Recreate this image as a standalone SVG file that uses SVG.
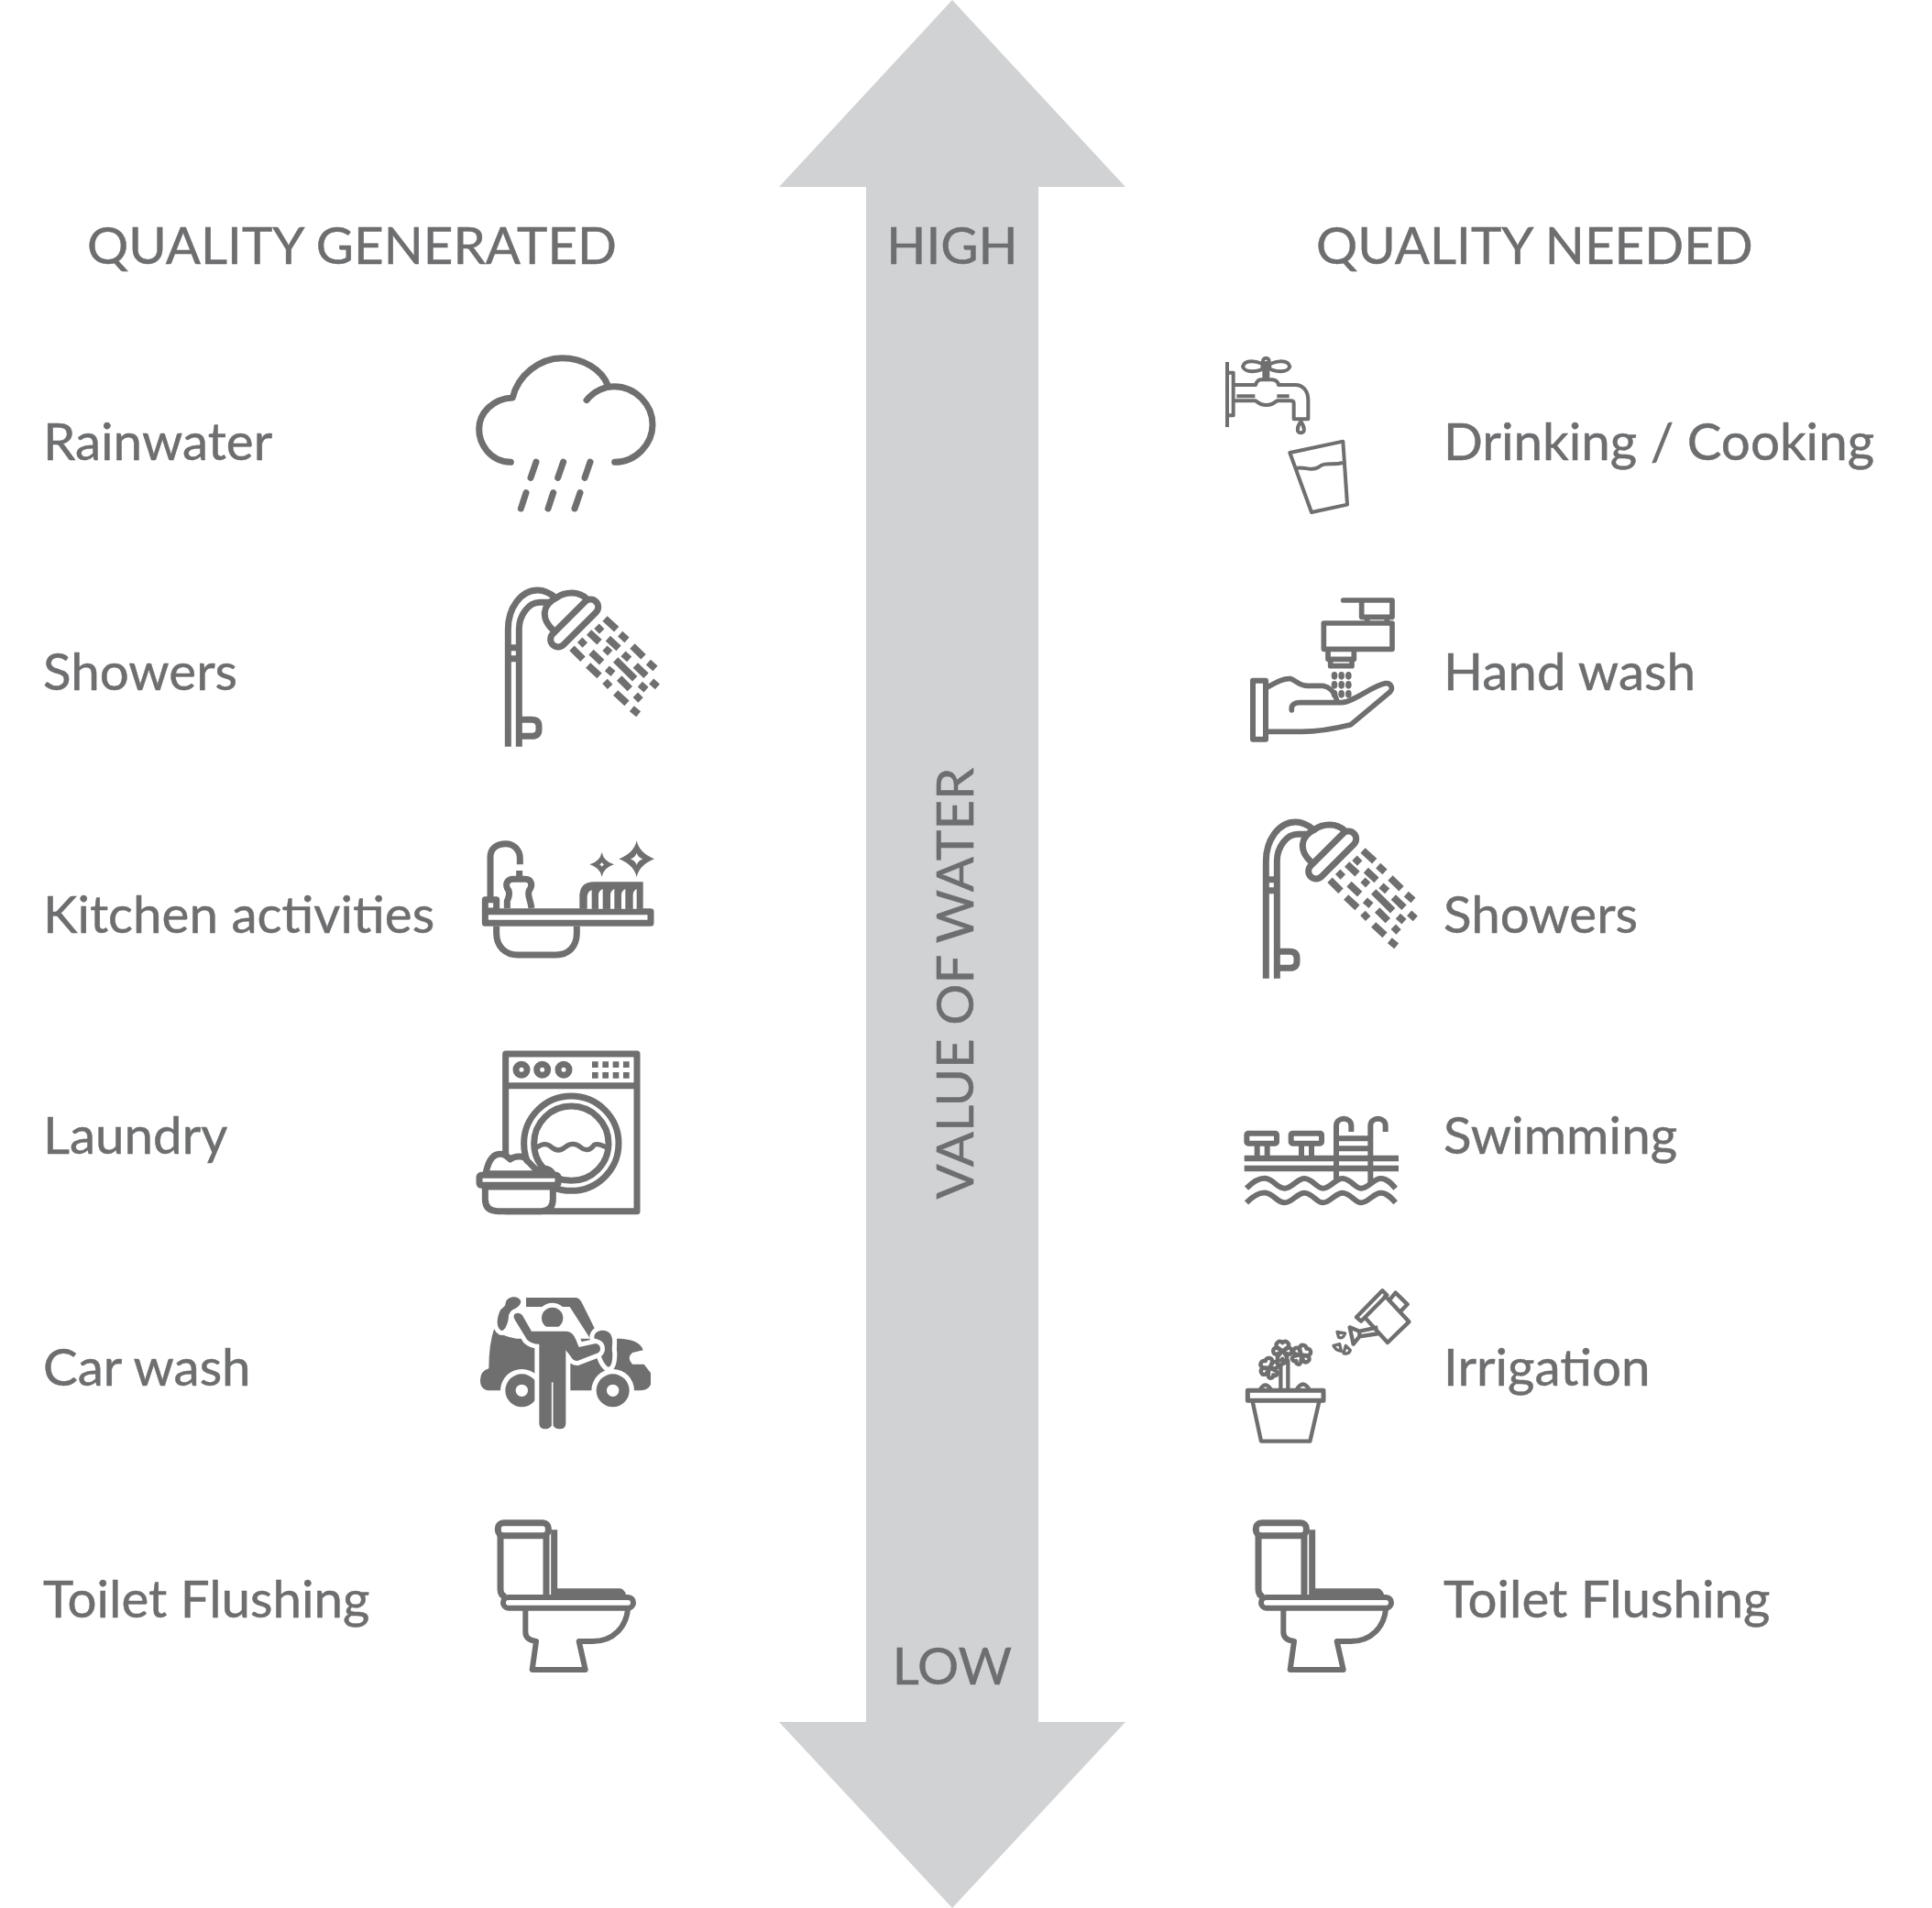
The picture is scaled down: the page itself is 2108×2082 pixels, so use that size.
<svg xmlns="http://www.w3.org/2000/svg" width="2108" height="2082" viewBox="0 0 2108 2082">
<style>
text{font-family:Lato,"Liberation Sans",sans-serif;fill:#6d6e70;stroke:#6d6e70;stroke-width:.5;font-size:56.5px}
.i{fill:none;stroke:#6f6f6f;stroke-width:21;stroke-linejoin:round}
.r{stroke-linecap:round}
.f{fill:#6f6f6f;stroke:none}
.w{fill:#fff}
.h{fill:#6f6f6f;stroke:#fff;stroke-width:30;paint-order:stroke}
</style>
<defs>
<g id="shower-icon">
<path d="M163 1334V950C163 880 205 822 260 822C285 822 305 835 320 848M199 1334V950C199 905 230 860 270 862H296M163 1010H199M163 1046H199M205 1246H240Q264 1246 264 1268V1278Q264 1300 240 1300H205M310 952C270 915 275 870 320 848C350 825 395 825 420 850"/>
<rect x="280" y="905" width="200" height="50" rx="25" transform="rotate(-45 380 930)"/>
<path stroke-width="23" d="M372 1012L408 1048M398 985L415 1002M428 960L462 992M453 940L470 957M480 915L518 950M530 965L552 985M490 980L525 1012M570 1005L606 1040M480 1012L497 1028M435 1025L470 1058M540 1030L560 1048M515 1050L578 1112M425 1068L462 1102M487 1078L507 1095M580 1068L615 1102M622 1058L645 1078M480 1120L497 1138M527 1110L562 1145M595 1130L615 1148M632 1120L652 1138M515 1158L552 1192M580 1165L597 1182M568 1210L590 1228"/>
</g>
<g id="toilet-icon">
<rect x="130" y="812" width="165" height="42" rx="18"/>
<path d="M138 855V1030Q138 1050 155 1055M288 855V1050M314 835V1055"/>
<path class="f" d="M314 1027H530Q545 1030 550 1050H314Z"/>
<rect x="147" y="1056" width="426" height="35" rx="17" stroke-width="18"/>
<path stroke-width="18" d="M220 1095V1170Q220 1195 255 1200L242 1293H416L395 1200H440C510 1200 550 1150 555 1095"/>
</g>
<path id="leaf" d="M0-26C10-36 26-26 18-12L4-2L20-10C34-10 34 10 20 12L4 4L14 20C18 32 4 36 0 26C-6 36-20 32-16 20L-4 4L-20 12C-34 10-34-10-20-10L-4-2L-18-12C-26-26-10-36 0-26Z"/>
</defs>

<g id="connectors">
<path id="value-arrow" fill="#d1d2d4" d="M1039 0L1228 204H1133V1879H1228L1039 2082L850 1879H945V204H850Z"/>
</g>

<g id="labels">
<text x="95" y="288">QUALITY GENERATED</text>
<text x="1436" y="288">QUALITY NEEDED</text>
<text x="1039" y="288" text-anchor="middle">HIGH</text>
<text x="1039" y="1838" text-anchor="middle">LOW</text>
<text transform="translate(1062 1073) rotate(-90)" text-anchor="middle">VALUE OF WATER</text>
</g>

<g id="rainwater"><text x="47" y="502">Rainwater</text>
<g class="i r" transform="translate(500 370) scale(.33333)"><path d="M172 403C100 400 68 340 68 295C68 240 115 195 178 192C195 120 265 62 340 62C410 62 470 100 490 152M420 200C445 170 480 155 510 155C580 155 636 215 636 280C636 345 580 403 512 403M255 402L237 454M344 402L326 454M432 402L414 454M222 503L205 555M311 503L294 555M399 503L381 555"/></g></g>

<g id="showers-generated"><text x="47" y="753">Showers</text>
<use class="i" href="#shower-icon" transform="translate(500 370) scale(.33333)"/></g>

<g id="kitchen"><text x="47" y="1018">Kitchen activities</text>
<g class="i" transform="translate(500 890) scale(.33333)">
<path d="M105 270V135C105 105 130 92 155 92C180 92 202 110 202 140V160M160 303V280C165 265 170 260 165 245C150 225 160 208 180 208H220C240 208 245 228 232 245C225 260 235 270 240 303M200 180V205"/>
<rect x="88" y="275" width="37" height="37"/>
<rect x="88" y="314" width="542" height="38"/>
<path d="M125 362V385C125 430 155 456 195 456H320C360 456 388 430 388 385V362"/>
<path class="f" d="M397 305V265Q397 217 445 217H605V305Z"/>
<path class="w" style="stroke:none" d="M422 305V270Q422 248 437 244V305ZM459 305V260Q459 246 473 240V305ZM498 305V260Q498 246 511 240V305ZM534 305V260Q534 246 547 240V305ZM572 305V260Q572 246 584 240V305Z"/>
<path class="f" d="M584 82Q592 122 642 142Q592 162 584 202Q576 162 526 142Q576 122 584 82ZM470 120Q476 150 510 160Q476 170 470 200Q464 170 430 160Q464 150 470 120Z"/>
<path class="w" style="stroke:none" d="M584 122Q588 136 604 142Q588 148 584 162Q580 148 564 142Q580 136 584 122ZM470 152Q472 158 478 160Q472 162 470 168Q468 162 462 160Q468 158 470 152Z"/>
</g></g>

<g id="laundry"><text x="47" y="1259">Laundry</text>
<g class="i" transform="translate(500 890) scale(.33333)">
<rect x="155" y="780" width="430" height="515"/>
<path d="M155 884H585"/>
<circle cx="207" cy="832" r="18"/><circle cx="275" cy="832" r="18"/><circle cx="345" cy="832" r="18"/>
<path class="f" d="M438 805h20v20h-20zM472 805h20v20h-20zM506 805h20v20h-20zM540 805h20v20h-20zM438 840h20v20h-20zM472 840h20v20h-20zM506 840h20v20h-20zM540 840h20v20h-20z"/>
<circle cx="370" cy="1073" r="155"/><circle cx="370" cy="1073" r="122"/>
<path stroke-width="16" d="M255 1088C275 1072 290 1072 305 1085S335 1098 350 1085S385 1072 400 1085S430 1098 445 1078C455 1072 470 1078 490 1088"/>
<path class="w" d="M90 1172C95 1145 105 1110 135 1108C150 1105 160 1115 170 1125C190 1110 220 1115 225 1130C240 1140 245 1155 260 1160C280 1150 300 1155 310 1172Z"/>
<path class="w" d="M88 1215V1255Q88 1295 130 1295H270Q310 1295 310 1255V1215Z"/>
<rect class="w" x="69" y="1177" width="258" height="33" rx="6"/>
</g></g>

<g id="car-wash"><text x="47" y="1512">Car wash</text>
<g transform="translate(500 1390) scale(.33333)">
<path class="f" d="M118 178Q140 205 190 212L530 212Q595 215 605 250L570 258Q550 275 570 296H608L630 325V362Q622 382 590 382H105Q72 382 72 348Q72 318 100 310Q100 230 118 178Z"/>
<path class="f" d="M222 78H385Q398 80 405 95L447 180L432 212L365 108H222Z"/>
<circle class="w" cx="208" cy="382" r="70"/><circle class="f" cx="208" cy="382" r="54"/><circle class="w" cx="208" cy="382" r="20"/>
<circle class="w" cx="506" cy="382" r="70"/><circle class="f" cx="506" cy="382" r="54"/><circle class="w" cx="506" cy="382" r="20"/>
<path class="h" d="M155 95C160 70 200 70 205 90C205 110 175 115 165 135C165 165 150 190 140 185C125 175 125 150 135 125C140 110 155 110 155 95Z"/>
<path class="h" d="M445 205C450 180 490 180 500 200C510 220 500 240 505 260C505 290 500 305 490 305C470 290 465 260 460 235C450 225 445 215 445 205Z"/>
<circle class="h" cx="308" cy="145" r="35"/>
<path class="h" d="M240 188H355Q375 190 385 215L395 240L450 228Q465 232 465 245Q465 258 450 262L390 285Q375 285 368 270L352 250V490Q352 508 332 508Q312 508 308 490Q304 508 285 508Q265 508 265 490V230Q240 230 225 215L185 150Q175 130 195 128Q210 130 215 145Z"/>
<path stroke="#fff" stroke-width="5" d="M308 355V495"/>
</g></g>

<g id="toilet-generated"><text x="47" y="1765">Toilet Flushing</text>
<use class="i" href="#toilet-icon" transform="translate(500 1391) scale(.33333)"/></g>

<g id="drinking"><text x="1575" y="502">Drinking / Cooking</text>
<g class="i" style="stroke-width:12" transform="translate(1320 380) scale(.33333)">
<path d="M57 45V258M62 80H77V220H62M78 120H150Q155 105 165 103H205Q222 105 225 120H280C305 120 322 140 322 170V232H275V180Q275 172 265 172H220Q185 200 150 172H78"/>
<path d="M88 157H148M220 157H260M178 60V103M190 60V103"/>
<path d="M185 60C160 40 115 35 108 60C115 82 160 80 185 60C210 40 255 35 262 60C255 82 210 80 185 60Z"/>
<circle cx="184" cy="60" r="12"/><circle cx="184" cy="42" r="10"/>
<path d="M298 240C285 258 283 277 298 277C313 277 311 258 298 240Z"/>
<path d="M262 342L436 305L450 512L333 537Z"/>
<path d="M282 393C310 385 330 405 355 390C380 370 400 385 435 375"/>
</g></g>

<g id="hand-wash"><text x="1575" y="753">Hand wash</text>
<g class="i" style="stroke-width:17" transform="translate(1320 380) scale(.33333)">
<path class="r" d="M437 825H597V880H497V825"/>
<path d="M515 880V895M580 880V895"/>
<rect x="373" y="900" width="224" height="85"/>
<path d="M387 985V1018H472V985M395 1020V1040H465V1020"/>
<path class="f" d="M398 1072a10 13 0 1 0 20 0a10 13 0 1 0-20 0M421 1072a10 13 0 1 0 20 0a10 13 0 1 0-20 0M444 1072a10 13 0 1 0 20 0a10 13 0 1 0-20 0M398 1102a10 13 0 1 0 20 0a10 13 0 1 0-20 0M421 1102a10 13 0 1 0 20 0a10 13 0 1 0-20 0M444 1102a10 13 0 1 0 20 0a10 13 0 1 0-20 0M398 1132a10 13 0 1 0 20 0a10 13 0 1 0-20 0M421 1132a10 13 0 1 0 20 0a10 13 0 1 0-20 0M444 1132a10 13 0 1 0 20 0a10 13 0 1 0-20 0"/>
<rect x="141" y="1088" width="42" height="192" style="stroke-width:18"/>
<path class="r" d="M188 1110C215 1095 240 1080 265 1082C285 1090 295 1105 320 1105H370C395 1110 410 1130 415 1150M268 1185C265 1165 280 1160 295 1160H430C470 1160 530 1105 575 1097C595 1095 600 1115 590 1125L462 1232C410 1245 340 1255 300 1255H188"/>
</g></g>

<g id="showers-needed"><text x="1575" y="1018">Showers</text>
<use class="i" href="#shower-icon" transform="translate(1327 623) scale(.33333)"/></g>

<g id="swimming"><text x="1575" y="1259">Swimming</text>
<g class="i" style="stroke-width:18" transform="translate(1340 1190) scale(.33333)">
<rect x="61" y="140" width="98" height="33" rx="5"/><rect x="206" y="140" width="100" height="33" rx="5"/>
<path d="M95 175V215M128 175V215M240 175V215M273 175V215"/>
<path style="stroke-width:19" d="M53 222H558M53 255H558"/>
<path d="M354 290V115C354 85 403 85 403 115V135M466 305V115C466 85 515 85 515 115V135M354 157H466M354 190H466"/>
<path d="M60 320C85 295 105 285 125 288C150 292 160 320 185 320C210 320 225 288 250 288C275 288 290 320 310 320C335 320 350 288 375 288C400 288 415 320 435 320C460 320 475 288 500 288C520 288 535 305 548 320M60 367C85 342 105 332 125 335C150 339 160 367 185 367C210 367 225 335 250 335C275 335 290 367 310 367C335 367 350 335 375 335C400 335 415 367 435 367C460 367 475 335 500 335C520 335 535 352 548 367"/>
</g></g>

<g id="irrigation"><text x="1575" y="1512">Irrigation</text>
<g class="i" style="stroke-width:13" transform="translate(1340 1190) scale(.33333)">
<rect x="64" y="982" width="248" height="33" style="stroke-width:15"/>
<path d="M80 1018L108 1148H268L298 1018M172 975V900M196 975V885L160 905M105 978Q122 950 140 978M225 978Q245 945 265 978"/>
<use href="#leaf" transform="translate(178 852)"/><use href="#leaf" transform="translate(135 908) rotate(-30)"/><use href="#leaf" transform="translate(240 865) rotate(40)"/>
<path d="M420 742L505 655L520 670L435 755ZM445 740L522 825L592 757L510 668M525 690L548 662L587 700L565 722M490 775L430 788M495 795L430 805M398 775L430 788V805L410 830Z"/>
<path style="stroke-width:10" d="M357 790L383 795Q375 815 362 808ZM345 835L365 830L370 853Q350 850 345 835ZM385 835L400 850Q395 865 378 860Z"/>
</g></g>

<g id="toilet-needed"><text x="1575" y="1765">Toilet Flushing</text>
<use class="i" href="#toilet-icon" transform="translate(1327 1391) scale(.33333)"/></g>
</svg>
